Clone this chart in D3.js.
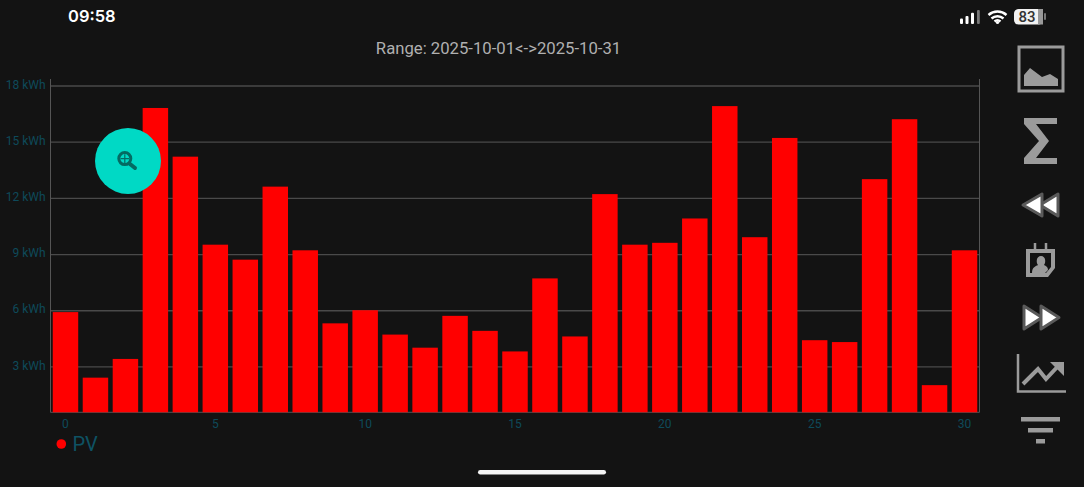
<!DOCTYPE html>
<html><head><meta charset="utf-8">
<style>html,body{margin:0;padding:0;background:#131313;overflow:hidden}svg{display:block}text{font-family:Roboto,sans-serif}</style>
<script src="https://cdn.jsdelivr.net/npm/d3@7"></script></head><body><div id="c"></div>
<script>
const days=d3.range(0,31);
const pv=[5.9,2.4,3.4,16.8,14.2,9.5,8.7,12.6,9.2,5.3,6.0,4.7,4.0,5.7,4.9,3.8,7.7,4.6,12.2,9.5,9.6,10.9,16.9,9.9,15.2,4.4,4.3,13.0,16.2,2.0,9.2];
const yTicks=[3,6,9,12,15,18];
const xTicks=[0,5,10,15,20,25,30];
const title="Range: 2025-10-01<->2025-10-31";
const yMin=0.55,yMax=18;
const W=1084,H=487,L=50.5,R=979.5,T=85.5,B=412.3;
const svg=d3.select("#c").append("svg").attr("width",W).attr("height",H);
svg.append("rect").attr("width",W).attr("height",H).attr("fill","#131313");
const x=d3.scaleBand().domain(days).range([L,R]).paddingInner(0.15).paddingOuter(0.075);
const y=d3.scaleLinear().domain([yMin,yMax]).range([B,T]);
const gy=svg.append("g").attr("transform",`translate(${L},0)`).call(d3.axisLeft(y).tickValues(yTicks).tickSize(-(R-L)).tickPadding(5).tickFormat(d=>d+" kWh"));
gy.select(".domain").remove();
gy.selectAll("line").attr("stroke","#4a4a4a").attr("stroke-width",1.3);
gy.selectAll("text").attr("fill","#0e4a5a").attr("font-size",12).attr("dy","0.22em");
svg.append("path").attr("d",`M${L},79V${B}H${R}V79`).attr("fill","none").attr("stroke","#555").attr("stroke-width",1);
svg.append("g").selectAll("rect").data(pv).join("rect")
 .attr("x",(d,i)=>x(days[i])).attr("width",x.bandwidth())
 .attr("y",d=>y(d)).attr("height",d=>B-y(d)).attr("fill","#ff0000");
const gx=svg.append("g").attr("transform",`translate(0,${B})`).call(d3.axisBottom(x).tickValues(xTicks).tickSize(0).tickPadding(7));
gx.select(".domain").remove();
gx.selectAll("text").attr("fill","#0e4a5a").attr("font-size",12);
svg.append("text").attr("x",498.5).attr("y",53.5).attr("text-anchor","middle").attr("fill","#b0b0b0").attr("font-size",16.7).text(title);
svg.append("circle").attr("cx",61.3).attr("cy",444).attr("r",4.8).attr("fill","#ff0000");
svg.append("text").attr("x",72.5).attr("y",451).attr("fill","#0e5263").attr("font-size",20).text("PV");
// FAB
svg.append("circle").attr("cx",128).attr("cy",161).attr("r",33).attr("fill","#00d9c5");
const z=svg.append("g").attr("stroke","#046a62").attr("fill","none");
z.append("circle").attr("cx",124.8).attr("cy",158.6).attr("r",6).attr("stroke-width",3);
z.append("path").attr("d","M120.5,158.600h8.6M124.8,154.300v8.6").attr("stroke-width",1.2);
z.append("path").attr("d","M130,164l5,4").attr("stroke-width",4).attr("stroke-linecap","round");
// status bar
svg.append("text").attr("x",68).attr("y",22).attr("fill","#fff").attr("font-size",16.5).attr("font-weight",600).style("font-family","Inter, Roboto, sans-serif").text("09:58");
const s=svg.append("g");
[[960,18.6],[965.5,16],[971,12.7],[977,10]].forEach(([a,b],i)=>s.append("rect").attr("x",a).attr("y",b).attr("width",i==3?2.8:3).attr("height",24-b).attr("rx",1).attr("fill",i==3?"#777":"#fff"));
const wifi=s.append("g").attr("fill","none").attr("stroke","#fff").attr("stroke-width",2.4);
wifi.append("path").attr("d","M988.500,15a13.500,13.500 0 0 1 18,0");
wifi.append("path").attr("d","M991.500,18.500a9,9 0 0 1 12,0");
wifi.append("path").attr("d","M994.500,21.500a4.500,4.500 0 0 1 6,0");
s.append("circle").attr("cx",997.5).attr("cy",22.5).attr("r",1.6).attr("fill","#fff");
s.append("rect").attr("x",1014).attr("y",9).attr("width",29).attr("height",15.5).attr("rx",4.5).attr("fill","#f2f2f2");
s.append("rect").attr("x",1038).attr("y",9).attr("width",5).attr("height",15.5).attr("fill","#999");
s.append("rect").attr("x",1044).attr("y",13).attr("width",2).attr("height",7).attr("rx",1).attr("fill","#777");
s.append("text").attr("x",1027).attr("y",22).attr("text-anchor","middle").attr("fill","#333").attr("font-size",15).attr("font-weight",500).text("83");
svg.append("rect").attr("x",478).attr("y",470).attr("width",128).attr("height",4.5).attr("rx",2.25).attr("fill","#f4f4f4");
// side icons
const ic=svg.append("g"),G="#9b9b9b";
ic.append("rect").attr("x",1019).attr("y",47).attr("width",44).attr("height",44).attr("fill","none").attr("stroke",G).attr("stroke-width",3);
ic.append("path").attr("d","M1024,75L1030,68L1042,77L1050,74L1058,79V86H1024Z").attr("fill",G);
ic.append("path").attr("d","M1024,118H1057V124H1036L1049,141L1036,158H1057V164H1024V158L1039,141L1024,124Z").attr("fill",G);
const tri=(pts)=>ic.append("path").attr("d",pts).attr("fill","#fff").attr("stroke","#5a5a5a").attr("stroke-width",3).attr("stroke-linejoin","round");
tri("M1058,194V216L1040,205Z");tri("M1042,194V216L1023,205Z");
ic.append("path").attr("d","M1026,249H1055V268L1048,277H1026ZM1030,253V273H1046L1051,267V253Z").attr("fill",G).attr("fill-rule","evenodd");
ic.append("path").attr("d","M1035,243v7M1046,243v7").attr("stroke",G).attr("stroke-width",2.5);
ic.append("path").attr("d","M1032,273c0,-6 4,-7 6,-8c-2,-2 -2,-9 3,-9c5,0 5,7 3,9c2,1 4,2 4,5l-3,3Z").attr("fill",G);
tri("M1024,306V329L1042,317.500Z");tri("M1041,306V329L1059,317.500Z");
ic.append("path").attr("d","M1018,354V391.500H1066").attr("fill","none").attr("stroke",G).attr("stroke-width",2.5);
ic.append("path").attr("d","M1023,384L1038,369L1046,379L1061,363").attr("fill","none").attr("stroke",G).attr("stroke-width",4);
ic.append("path").attr("d","M1050,362H1064V376Z").attr("fill",G);
ic.append("rect").attr("x",1021).attr("y",417).attr("width",39).attr("height",4.5).attr("fill",G);
ic.append("rect").attr("x",1028).attr("y",428).attr("width",25).attr("height",4.5).attr("fill",G);
ic.append("rect").attr("x",1036).attr("y",439).attr("width",9).attr("height",4.5).attr("fill",G);
</script></body></html>
